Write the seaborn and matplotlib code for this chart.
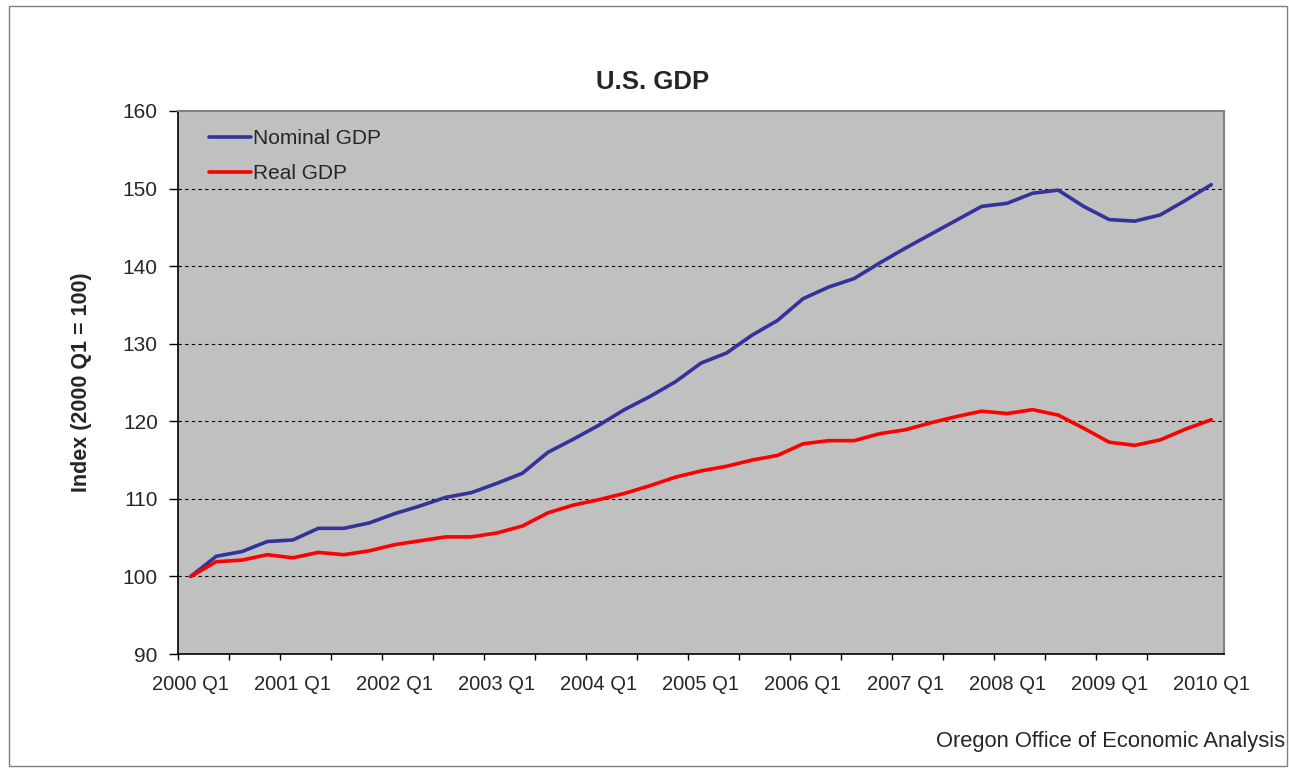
import matplotlib
matplotlib.use("Agg")
import matplotlib.pyplot as plt
import matplotlib.patches as mpatches
from matplotlib.ticker import FixedLocator, NullFormatter
import seaborn as sns
import pandas as pd

quarters = [f"{y} Q{q}" for y in range(2000, 2011) for q in range(1, 5)][:41]
tick_labels = [f"{y} Q1" for y in range(2000, 2011)]

nominal_gdp = [100, 102.6, 103.2, 104.5, 104.7, 106.2, 106.2, 106.9, 108.1, 109.1,
               110.2, 110.8, 112.0, 113.3, 116.0, 117.7, 119.5, 121.5, 123.2, 125.1,
               127.5, 128.8, 131.1, 133.0, 135.8, 137.3, 138.4, 140.4, 142.3, 144.1,
               145.9, 147.7, 148.1, 149.4, 149.8, 147.7, 146.0, 145.8, 146.6, 148.5,
               150.5]
real_gdp = [100, 101.9, 102.1, 102.8, 102.4, 103.1, 102.8, 103.3, 104.1, 104.6,
            105.1, 105.1, 105.6, 106.5, 108.2, 109.2, 109.9, 110.7, 111.7, 112.8,
            113.6, 114.2, 115.0, 115.6, 117.1, 117.5, 117.5, 118.4, 118.9, 119.8,
            120.6, 121.3, 121.0, 121.5, 120.8, 119.1, 117.3, 116.9, 117.6, 119.0,
            120.2]

series_names = ["Nominal GDP", "Real GDP"]
colors = {"Nominal GDP": "#333399", "Real GDP": "#FF0000"}

df = pd.concat([
    pd.DataFrame({"idx": range(len(quarters)), "quarter": quarters,
                  "value": nominal_gdp, "series": series_names[0]}),
    pd.DataFrame({"idx": range(len(quarters)), "quarter": quarters,
                  "value": real_gdp, "series": series_names[1]}),
])

sns.set_style("white")
plt.rcParams["font.family"] = ["Liberation Sans", "DejaVu Sans"]

fig = plt.figure(figsize=(12.89, 7.68), dpi=100)
ax = fig.add_axes([178 / 1289, 1 - 654 / 768, (1224 - 178) / 1289, (654 - 111) / 768])
ax.set_facecolor("#C0C0C0")

sns.lineplot(data=df, x="idx", y="value", hue="series", palette=colors,
             linewidth=2.6, ax=ax, legend=True)

ax.set_xlim(-0.5, len(quarters) - 0.5)
ax.set_ylim(90, 160)
ax.set_yticks(range(90, 161, 10))
ax.tick_params(axis="y", left=True, labelsize=15, direction="out", length=6.5, width=1,
               color="black", pad=8)

# major ticks between categories every 2, labels every 4 categories
ax.xaxis.set_major_locator(FixedLocator([i - 0.5 for i in range(0, 41, 2)][:20]))
ax.xaxis.set_major_formatter(NullFormatter())
ax.set_xticks(list(range(0, 41, 4)), minor=True)
ax.set_xticklabels(tick_labels, minor=True)
ax.tick_params(axis="x", which="major", bottom=True, direction="out", length=4.5, width=1,
               color="black")
ax.tick_params(axis="x", which="minor", bottom=True, length=0, labelsize=14.5, pad=15)

for y in range(100, 160, 10):
    ax.axhline(y, color="black", linestyle=(0, (3, 3)), linewidth=0.8, zorder=1)

ax.set_xlabel("")
ax.set_ylabel("Index (2000 Q1 = 100)", fontsize=15.5, fontweight="bold", labelpad=22)
fig.text(653 / 1289, 1 - 82 / 768, "U.S. GDP", fontsize=18.5, fontweight="bold",
         ha="center", va="center")

for side in ["left", "bottom"]:
    ax.spines[side].set_color("black")
    ax.spines[side].set_linewidth(1.2)
for side in ["top", "right"]:
    ax.spines[side].set_visible(True)
    ax.spines[side].set_color("#808080")
    ax.spines[side].set_linewidth(1.5)

leg = ax.legend(frameon=False, loc="upper left", bbox_to_anchor=(0.016, 0.993),
                fontsize=15, handlelength=2.0, handletextpad=0.1, labelspacing=0.76,
                borderaxespad=0.3)

fig.text(1285 / 1289, 1 - 741 / 768, "Oregon Office of Economic Analysis", fontsize=15.8,
         ha="right", va="center")

fig.patches.append(mpatches.Rectangle((9 / 1289, 0.002), (1287 - 9) / 1289, 1 - 6 / 768 - 0.002,
                                      transform=fig.transFigure, fill=False,
                                      edgecolor="#808080", linewidth=1))

fig.savefig("out.png", dpi=100)
